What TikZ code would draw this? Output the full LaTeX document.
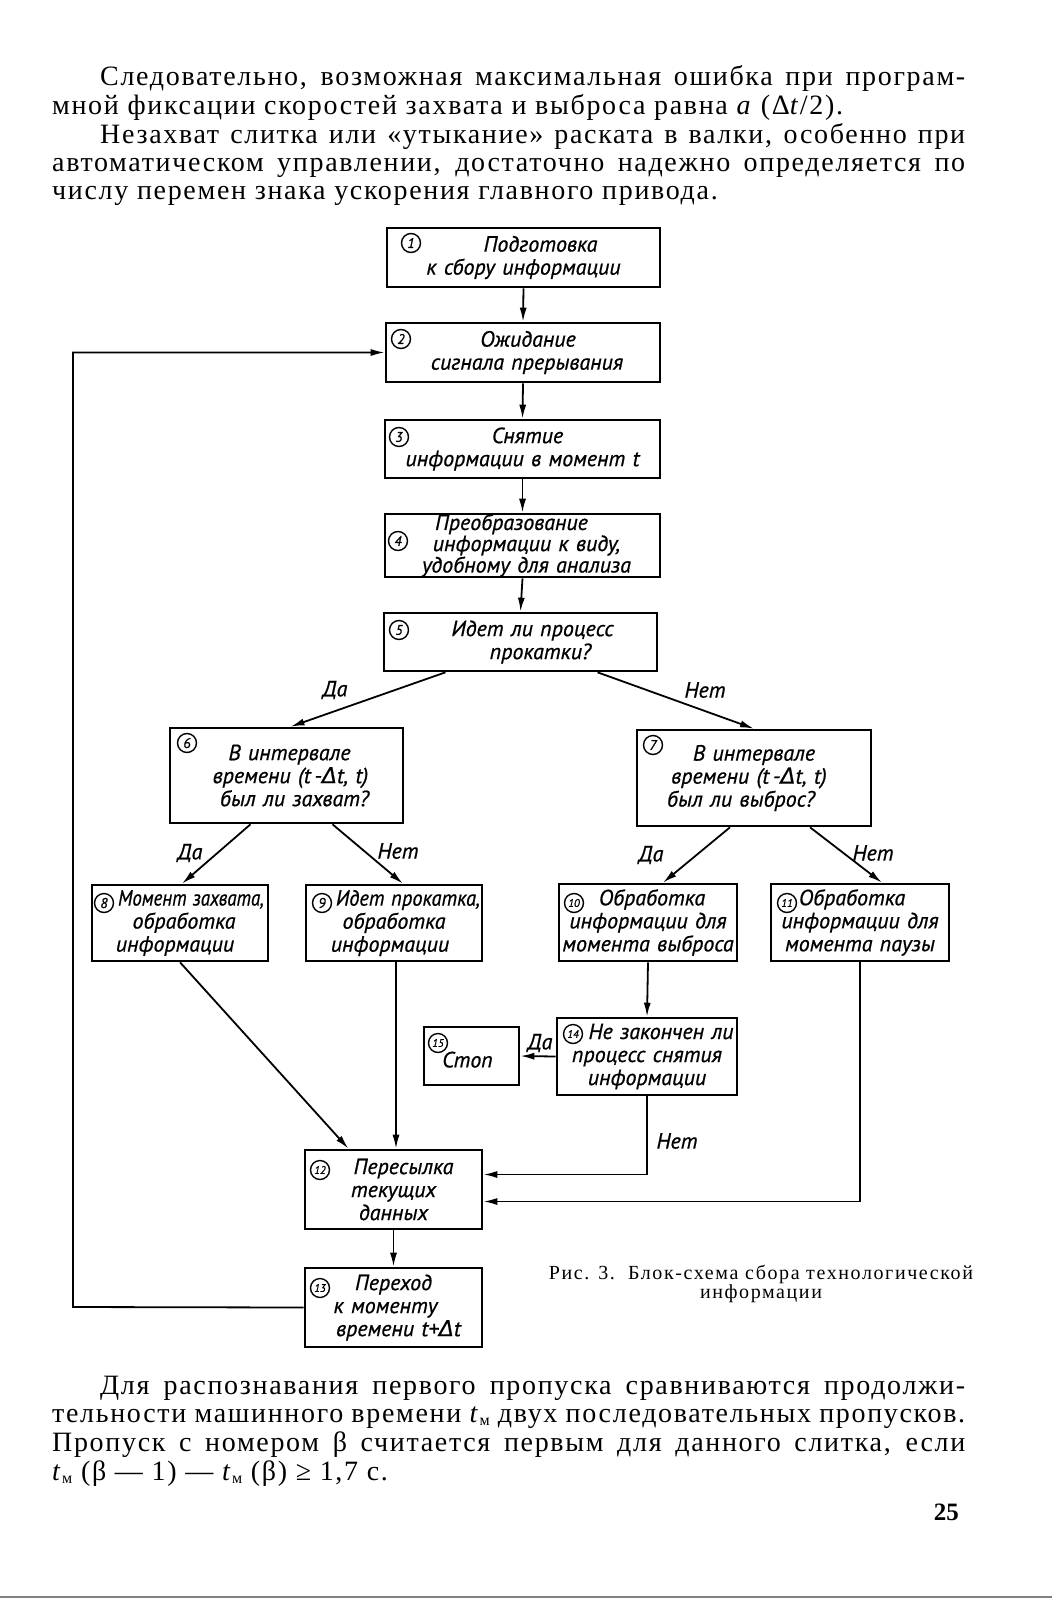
\documentclass[tikz,border=0pt]{standalone}
\usepackage{fontspec}
\setmainfont{Liberation Serif}
\newfontfamily\bodyfont{Liberation Serif}[LetterSpace=6]
\newfontfamily\handfont{PT Sans}[WordSpace=1.25, ItalicFeatures={FakeBold=0.7}]
\newfontfamily\deltafont{DejaVu Sans}[ItalicFeatures={FakeBold=0.7}]
\usetikzlibrary{arrows.meta}

\newcommand{\dlt}{{\deltafont\itshape Δ}}
\newcommand{\mv}[2]{\hspace*{#1}\hspace*{#1}#2}
\newcommand{\narrow}[2]{\scalebox{#1}[1]{#2}}
\newcommand{\tmach}{\textit{t}\smash{\raisebox{-.12em}{\fontsize{16}{16}\selectfont м}}}

\tikzset{
  blk/.style={draw, line width=2.6pt, inner sep=0pt, align=center,
    font=\handfont\itshape\fontsize{22}{23}\selectfont},
  numc/.style={draw, circle, line width=1.4pt, inner sep=0pt, minimum size=19pt,
    font=\handfont\itshape\fontsize{14}{14}\selectfont},
  numcc/.style={numc, font=\handfont\itshape\fontsize{11}{11}\selectfont},
  arr/.style={line width=1.8pt, -{Latex[length=14pt,width=7pt]}},
  lbl/.style={inner sep=0pt, font=\handfont\itshape\fontsize{22}{22}\selectfont},
  txt/.style={anchor=base west, inner sep=0pt, font=\bodyfont\fontsize{28}{28}\selectfont},
  captext/.style={inner sep=0pt, align=center, font=\fontsize{20}{17}\selectfont\addfontfeature{LetterSpace=8}},
}

\begin{document}
\begin{tikzpicture}[x=1pt,y=-1pt]
\useasboundingbox (0,0) rectangle (1052,1600);
\fill[white] (0,0) rectangle (1052,1600);

% text above the figure
\node[txt] (t1) at (100,86) {\makebox[865pt][s]{Следовательно, возможная максимальная ошибка при програм-}};
\node[txt] (t2) at (52,114) {мной фиксации скоростей захвата и выброса равна \textit{a} (Δ\textit{t}/2).};
\node[txt] (t3) at (100,143) {\makebox[865pt][s]{Незахват слитка или «утыкание» раската в валки, особенно при}};
\node[txt] (t4) at (52,171) {\makebox[913pt][s]{автоматическом управлении, достаточно надежно определяется по}};
\node[txt] (t5) at (52,199) {числу перемен знака ускорения главного привода.};

% blocks
\node[blk, minimum width=273pt, minimum height=59pt] (b1) at (523.5,257.5) {\mv{17pt}{Подготовка}\\к сбору информации};
\node[blk, minimum width=274pt, minimum height=59pt] (b2) at (523,352.5) {\mv{5pt}{Ожидание}\\\mv{4pt}{сигнала прерывания}};
\node[blk, minimum width=275pt, minimum height=58pt] (b3) at (522.5,449) {\mv{5pt}{Снятие}\\информации в момент t};
\node[blk, minimum width=275pt, minimum height=59pt, font=\handfont\itshape\fontsize{22}{18.5}\selectfont] (b4) at (522.5,545.5) {\mv{-11pt}{Преобразование}\\\mv{4pt}{информации к виду,}\\\mv{4pt}{удобному для анализа}};
\node[blk, minimum width=273pt, minimum height=58pt] (b5) at (520.5,642) {\mv{12pt}{Идет ли процесс}\\\mv{20pt}{прокатки?}};
\node[blk, minimum width=233pt, minimum height=95pt] (b6) at (286.5,775.5) {\mv{3pt}{В интервале}\\\mv{4pt}{времени (t\,-\dlt t, t)}\\\mv{8pt}{был ли захват?}};
\node[blk, minimum width=234pt, minimum height=96pt] (b7) at (754,778) {В интервале\\\mv{-5pt}{времени (t\,-\dlt t, t)}\\\mv{-13pt}{был ли выброс?}};
\node[blk, minimum width=176pt, minimum height=76pt] (b8) at (180,923) {\mv{11pt}{\narrow{.86}{Момент захвата,}}\\\mv{4pt}{обработка}\\\mv{-5pt}{информации}};
\node[blk, minimum width=176pt, minimum height=76pt] (b9) at (394,923) {\mv{14pt}{\narrow{.93}{Идет прокатка,}}\\обработка\\\mv{-4pt}{информации}};
\node[blk, minimum width=178pt, minimum height=77pt] (b10) at (648,922.5) {\mv{4pt}{Обработка}\\информации для\\момента выброса};
\node[blk, minimum width=178pt, minimum height=77pt] (b11) at (860,922.5) {\mv{-8pt}{Обработка}\\информации для\\момента паузы};
\node[blk, minimum width=180pt, minimum height=77pt] (b14) at (647,1056.5) {\mv{14pt}{Не закончен ли}\\процесс снятия\\информации};
\node[blk, minimum width=95pt, minimum height=58pt] (b15) at (471.5,1056) {\mbox{}\\\mv{-4pt}{Стоп}};
\node[blk, minimum width=177pt, minimum height=79pt] (b12) at (393.5,1189.5) {\mv{10pt}{Пересылка}\\текущих\\данных};
\node[blk, minimum width=177pt, minimum height=79pt] (b13) at (393.5,1307.5) {Переход\\\mv{-8pt}{к моменту}\\\mv{5pt}{времени t+\dlt t}};

% circled numbers
\node[numc] (c1) at (411,243) {1};
\node[numc] (c2) at (401,339) {2};
\node[numc] (c3) at (399,437) {3};
\node[numc] (c4) at (398,541) {4};
\node[numc] (c5) at (399,630) {5};
\node[numc] (c6) at (187,743) {6};
\node[numc] (c7) at (653,745) {7};
\node[numc] (c8) at (104,903) {8};
\node[numc] (c9) at (322,903) {9};
\node[numcc] (c10) at (574,903) {10};
\node[numcc] (c11) at (787,903) {11};
\node[numcc] (c12) at (320,1170) {12};
\node[numcc] (c13) at (320,1288) {13};
\node[numcc] (c14) at (573,1034) {14};
\node[numcc] (c15) at (438,1043) {15};

% connectors
\draw[arr] (b1.south) -- (b2.north);
\draw[arr] (b2.south) -- (b3.north);
\draw[arr] (b3.south) -- (b4.north);
\draw[arr] (b4.south) -- (b5.north);
\draw[arr] ([xshift=-75pt]b5.south) -- ([xshift=4pt]b6.north);
\draw[arr] ([xshift=77pt]b5.south) -- (b7.north);
\draw[arr] ([xshift=-36pt]b6.south) -- ([xshift=2pt]b8.north);
\draw[arr] ([xshift=46pt]b6.south) -- ([xshift=9pt]b9.north);
\draw[arr] ([xshift=-24pt]b7.south) -- ([xshift=15pt]b10.north);
\draw[arr] ([xshift=56pt]b7.south) -- ([xshift=22pt]b11.north);
\draw[arr] (b8.south) -- ([xshift=-45pt]b12.north);
\draw[arr] ([xshift=2pt]b9.south) -- ([xshift=2pt]b9.south |- b12.north);
\draw[arr] (b10.south) -- (b14.north);
\draw[arr] (b14.west) -- (b15.east);
\draw[arr] (b14.south) |- ([yshift=15pt]b12.east);
\draw[arr] (b11.south) |- ([yshift=-12pt]b12.east);
\draw[arr] (b12.south) -- (b13.north);
\coordinate (back) at (73,1307);
\draw[arr] (b13.west) -- (back) |- (b2.west);

% branch labels
\node[lbl] (yes56) at (335,690) {Да};
\node[lbl] (no57) at (705,690) {Нет};
\node[lbl] (yes68) at (190,853) {Да};
\node[lbl] (no69) at (398,851) {Нет};
\node[lbl] (yes710) at (651,855) {Да};
\node[lbl] (no711) at (873,853) {Нет};
\node[lbl] (yes1415) at (540,1043) {Да};
\node[lbl] (no1412) at (677,1141) {Нет};

% caption
\node[captext] (cap) at (761,1284) {Рис. 3.\ \ Блок-схема сбора технологической\\информации};

% text below the figure
\node[txt] (p1) at (100,1394) {\makebox[865pt][s]{Для распознавания первого пропуска сравниваются продолжи-}};
\node[txt] (p2) at (52,1422) {\makebox[913pt][s]{тельности машинного времени \tmach{} двух последовательных пропусков.}};
\node[txt] (p3) at (52,1451) {\makebox[913pt][s]{Пропуск с номером β считается первым для данного слитка, если}};
\node[txt] (p4) at (52,1480) {\tmach{} (β — 1) — \tmach{} (β) ≥ 1,7 с.};
\node[anchor=base east, inner sep=0pt, font=\fontsize{25}{25}\selectfont\bfseries] (pg) at (959,1520) {25};

\draw[gray, line width=2pt] (0,1597) -- (1052,1597);
\end{tikzpicture}
\end{document}
